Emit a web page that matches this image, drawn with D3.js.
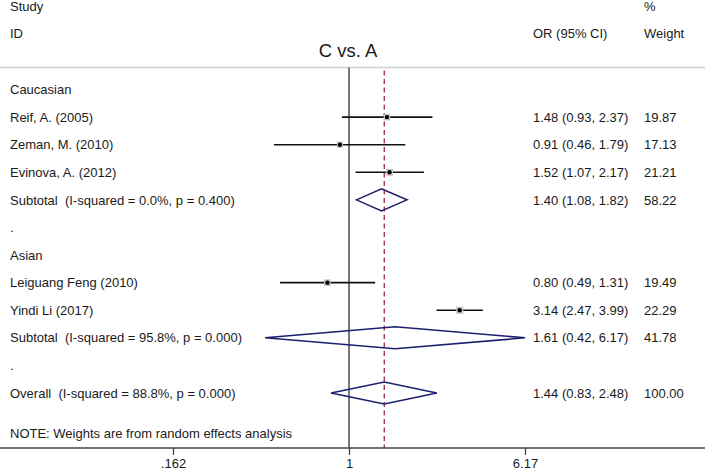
<!DOCTYPE html>
<html><head><meta charset="utf-8">
<script src="https://cdn.jsdelivr.net/npm/d3@7"></script>
<style>
html,body{margin:0;padding:0;background:#fff;}
svg{display:block;}
text{font-family:"Liberation Sans",Arial,sans-serif;fill:#1a1a1a;white-space:pre;}
</style></head>
<body>
<svg id="chart" width="708" height="473"></svg>
<script>
// ---- data ----
const rowLabels = ["Caucasian","Reif, A. (2005)","Zeman, M. (2010)","Evinova, A. (2012)",
  "Subtotal  (I-squared = 0.0%, p = 0.400)",".","Asian","Leiguang Feng (2010)","Yindi Li (2017)",
  "Subtotal  (I-squared = 95.8%, p = 0.000)",".","Overall  (I-squared = 88.8%, p = 0.000)"];
const rowTypes = ["head","study","study","study","sub","blank","head","study","study","sub","blank","overall"];
const orValues = [null,1.48,0.91,1.52,1.40,null,null,0.80,3.14,1.61,null,1.44];
const ciLower  = [null,0.93,0.46,1.07,1.08,null,null,0.49,2.47,0.42,null,0.83];
const ciUpper  = [null,2.37,1.79,2.17,1.82,null,null,1.31,3.99,6.17,null,2.48];
const weights  = [null,19.87,17.13,21.21,58.22,null,null,19.49,22.29,41.78,null,100.00];
const tickValues = [0.162, 1, 6.17];
const tickLabels = [".162", "1", "6.17"];
const overallOR = 1.44;
const title = "C vs. A";
const note = "NOTE: Weights are from random effects analysis";

// ---- drawing ----
const svg = d3.select("#chart");
const x = d3.scaleLog().domain([0.162, 6.17]).range([173, 525]);
const y = d3.scaleLinear().domain([0, 11]).range([89.5, 393]);
const fs = 13;
const plotTop = 67.5, axisY = 448;

// header
svg.append("text").attr("x",10).attr("y",10.5).attr("font-size",fs).text("Study");
svg.append("text").attr("x",10).attr("y",37.5).attr("font-size",fs).text("ID");
svg.append("text").attr("x",644).attr("y",10.5).attr("font-size",fs).text("%");
svg.append("text").attr("x",533).attr("y",37.5).attr("font-size",fs).text("OR (95% CI)");
svg.append("text").attr("x",644).attr("y",37.5).attr("font-size",fs).text("Weight");
svg.append("text").attr("x",348).attr("y",57.3).attr("font-size",18.5).attr("text-anchor","middle").text(title);

// separator
svg.append("line").attr("x1",0).attr("x2",705).attr("y1",plotTop).attr("y2",plotTop)
  .attr("stroke","#cfcfcf").attr("stroke-width",1.6);

// null line
svg.append("line").attr("x1",x(1)).attr("x2",x(1)).attr("y1",plotTop).attr("y2",axisY)
  .attr("stroke","#4a4a4a").attr("stroke-width",1.5);
// overall dashed line
svg.append("line").attr("x1",x(overallOR)).attr("x2",x(overallOR)).attr("y1",plotTop+3).attr("y2",axisY)
  .attr("stroke","#9e3b4b").attr("stroke-width",1.4).attr("stroke-dasharray","5,3.5");

// axis
svg.append("line").attr("x1",0).attr("x2",705).attr("y1",axisY).attr("y2",axisY)
  .attr("stroke","#444").attr("stroke-width",1.5);
const axis = d3.axisBottom(x).tickValues(tickValues).tickFormat((d,i)=>tickLabels[i])
  .tickSize(7).tickSizeOuter(0).tickPadding(4);
const ag = svg.append("g").attr("transform",`translate(0,${axisY})`).call(axis);
ag.select(".domain").remove();
ag.selectAll(".tick line").attr("stroke","#444").attr("stroke-width",1.3);
ag.selectAll(".tick text").attr("font-size",fs).attr("font-family","Liberation Sans, Arial, sans-serif")
  .attr("fill","#1a1a1a");

// rows
rowLabels.forEach((lab,i)=>{
  const yc = y(i);
  svg.append("text").attr("x",10).attr("y",yc).attr("dy","0.36em").attr("font-size",fs).text(lab);
  if (orValues[i] != null) {
    svg.append("text").attr("x",533).attr("y",yc).attr("dy","0.36em").attr("font-size",fs)
      .text(`${orValues[i].toFixed(2)} (${ciLower[i].toFixed(2)}, ${ciUpper[i].toFixed(2)})`);
    svg.append("text").attr("x",644).attr("y",yc).attr("dy","0.36em").attr("font-size",fs)
      .text(weights[i].toFixed(2));
  }
  if (rowTypes[i] === "study") {
    svg.append("line").attr("x1",x(ciLower[i])).attr("x2",x(ciUpper[i])).attr("y1",yc).attr("y2",yc)
      .attr("stroke","#111").attr("stroke-width",1.6);
    const s = Math.sqrt(weights[i]) * 1.5;
    svg.append("rect").attr("x",x(orValues[i])-s/2).attr("y",yc-s/2).attr("width",s).attr("height",s)
      .attr("fill","#c4c4c4");
    svg.append("circle").attr("cx",x(orValues[i])).attr("cy",yc).attr("r",2.2).attr("fill","#000");
  } else if (rowTypes[i] === "sub" || rowTypes[i] === "overall") {
    const h = 11;
    const pts = [[x(ciLower[i]),yc],[x(orValues[i]),yc-h],[x(ciUpper[i]),yc],[x(orValues[i]),yc+h]];
    svg.append("path").attr("d", d3.line()(pts) + "Z").attr("fill","none")
      .attr("stroke","#1c1f6e").attr("stroke-width",1.6);
  }
});

// note
svg.append("text").attr("x",10).attr("y",433.5).attr("dy","0.36em").attr("font-size",fs).text(note);
</script>
</body></html>
